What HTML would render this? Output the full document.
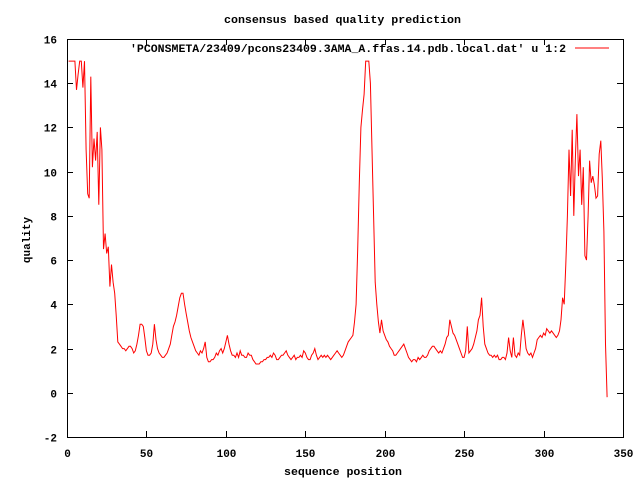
<!DOCTYPE html>
<html><head><meta charset="utf-8"><style>
body{margin:0;background:#fff}
svg text{font-family:"Liberation Mono",monospace;font-size:11px;font-weight:bold;fill:#000}
</style></head><body>
<svg width="640" height="480" viewBox="0 0 640 480" xmlns="http://www.w3.org/2000/svg">
<rect width="640" height="480" fill="#fff"/>
<g id="axes"></g>
<g id="series"></g>
<text x="224" y="23" textLength="237" lengthAdjust="spacingAndGlyphs">consensus based quality prediction</text>
<text x="284" y="475" textLength="118" lengthAdjust="spacingAndGlyphs">sequence position</text>
<text x="0" y="0" text-anchor="middle" transform="translate(30,240) rotate(-90)">quality</text>
<g>
<text x="130" y="52" textLength="436" lengthAdjust="spacingAndGlyphs">'PCONSMETA/23409/pcons23409.3AMA_A.ffas.14.pdb.local.dat' u 1:2</text>
<line x1="575" y1="48" x2="609" y2="48" stroke="#f00" stroke-width="1"/>
</g>
</svg>
<script>
const xTicks=[0,50,100,150,200,250,300,350];
const yTicks=[-2,0,2,4,6,8,10,12,14,16];
const quality=[
15,15,15,15,15,13.7,14.4,15,15,13.8,
15,11,9,8.8,14.3,10.2,11.5,10.5,11.8,8.5,
12,11,6.5,7.2,6.3,6.6,4.8,5.8,5.0,4.5,
3.5,2.3,2.2,2.1,2.0,2.0,1.9,2.0,2.1,2.1,
2.0,1.8,1.9,2.2,2.6,3.1,3.1,3.0,2.5,1.9,
1.7,1.7,1.8,2.2,3.1,2.4,2.0,1.8,1.7,1.6,
1.6,1.7,1.8,2.0,2.2,2.6,3.0,3.2,3.5,3.9,
4.3,4.5,4.5,4.0,3.6,3.2,2.8,2.5,2.3,2.1,
1.9,1.8,1.7,1.9,1.8,2.0,2.3,1.6,1.4,1.4,
1.5,1.5,1.6,1.8,1.7,1.9,2.0,1.8,2.0,2.3,
2.6,2.2,1.9,1.7,1.7,1.6,1.8,1.6,1.9,1.7,
1.7,1.6,1.6,1.8,1.7,1.7,1.5,1.4,1.3,1.3,
1.3,1.4,1.4,1.5,1.5,1.6,1.6,1.7,1.6,1.8,
1.7,1.5,1.5,1.6,1.7,1.7,1.8,1.9,1.7,1.6,
1.5,1.6,1.7,1.5,1.6,1.6,1.7,1.6,1.9,1.8,
1.6,1.5,1.5,1.7,1.8,2.0,1.7,1.5,1.6,1.7,
1.6,1.7,1.6,1.7,1.6,1.5,1.6,1.7,1.8,1.9,
1.8,1.7,1.6,1.7,1.9,2.1,2.3,2.4,2.5,2.6,
3.2,4.0,6.5,9.5,12.0,12.8,13.5,15,15,15,
14,11,8,5,4,3.2,2.7,3.3,2.8,2.6,
2.4,2.3,2.1,2.0,1.9,1.7,1.7,1.8,1.9,2.0,
2.1,2.2,2.0,1.8,1.6,1.5,1.4,1.5,1.5,1.4,
1.6,1.5,1.6,1.7,1.6,1.6,1.7,1.9,2.0,2.1,
2.1,2.0,1.9,1.8,1.9,1.8,2.0,2.2,2.5,2.6,
3.3,3.0,2.7,2.6,2.4,2.2,2.0,1.8,1.6,1.6,
1.9,3.0,1.8,1.9,2.0,2.2,2.5,2.8,3.3,3.5,
4.3,3.0,2.2,2.0,1.8,1.7,1.7,1.6,1.7,1.6,
1.7,1.5,1.5,1.6,1.6,1.5,1.8,2.5,1.9,1.6,
2.5,1.7,1.6,1.8,1.7,2.6,3.3,2.7,2.0,1.8,
1.7,1.8,1.6,1.8,2.0,2.4,2.5,2.6,2.5,2.7,
2.6,2.9,2.8,2.7,2.8,2.7,2.6,2.5,2.6,2.8,
3.3,4.3,4.0,5.8,8.0,11.0,8.9,11.9,8.0,10.5,
12.6,9.8,11,8.5,10.2,6.2,6.0,8.0,10.5,9.5,
9.8,9.4,8.8,8.9,10.8,11.4,9.7,7.3,2.2,-0.2];
const L=67,R=623,T=39,B=437,XMIN=0,XMAX=350,YMIN=-2,YMAX=16;
function sx(v){return L+(v-XMIN)/(XMAX-XMIN)*(R-L);}
function sy(v){return B-(v-YMIN)/(YMAX-YMIN)*(B-T);}
const NS="http://www.w3.org/2000/svg";
const axes=document.getElementById('axes');
function mk(tag,attrs,parent){const e=document.createElementNS(NS,tag);for(const k in attrs)e.setAttribute(k,attrs[k]);parent.appendChild(e);return e;}
const frame=mk('rect',{x:L+0.5,y:T+0.5,width:R-L,height:B-T,fill:'none',stroke:'#000'},axes);


xTicks.forEach(v=>{
  const x=Math.round(sx(v))+0.5;
  const t1=mk('line',{x1:x,y1:B,x2:x,y2:B-6,stroke:'#000'},axes);
  
  
  const t2=mk('line',{x1:x,y1:T,x2:x,y2:T+6,stroke:'#000'},axes);
  
  
  const lb=mk('text',{x:x,y:B+20,'text-anchor':'middle'},axes);
  lb.textContent=v;
  
  
});
yTicks.forEach(v=>{
  const y=Math.round(sy(v))+0.5;
  const t1=mk('line',{x1:L,y1:y,x2:L+6,y2:y,stroke:'#000'},axes);
  
  
  const t2=mk('line',{x1:R,y1:y,x2:R-6,y2:y,stroke:'#000'},axes);
  
  
  const lb=mk('text',{x:L-10,y:y+4,'text-anchor':'end'},axes);
  lb.textContent=v;
  
  
});
const pts=quality.map((q,i)=>sx(i+1).toFixed(1)+','+sy(q).toFixed(1)).join(' ');
const line=mk('polyline',{points:pts,fill:'none',stroke:'#f00','stroke-width':1},document.getElementById('series'));


</script>
</body></html>
